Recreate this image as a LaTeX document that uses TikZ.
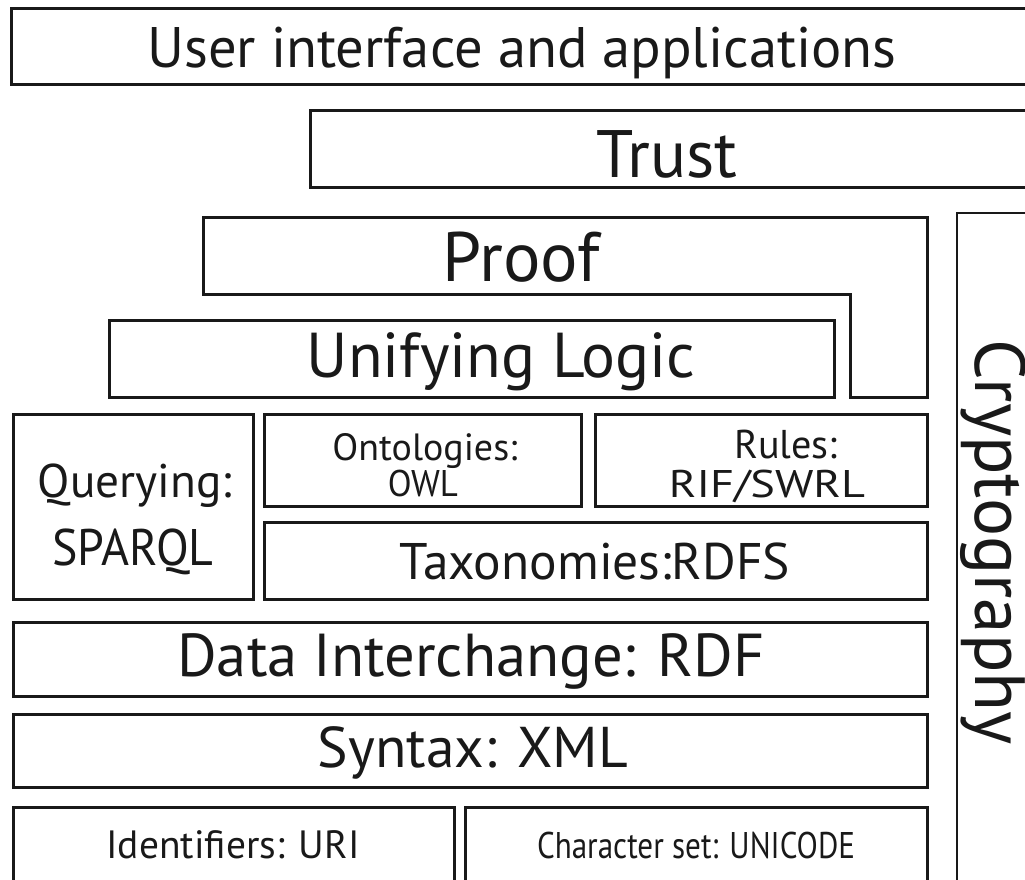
\documentclass[tikz,border=0pt]{standalone}
\usepackage{fontspec}
\setmainfont{PT Sans}
\usepackage{graphicx}
% a label of a given printed width
\newcommand{\lblw}[2]{\resizebox{#1}{!}{#2}}
% a label of a given printed width and capital height
\newcommand{\lblwh}[3]{\resizebox{#1}{#2}{\raisebox{0pt}[\fontcharht\font`\H]{#3}}}
\begin{document}
\begin{tikzpicture}[x=1pt,y=-1pt,
  layer/.style={draw=black!90, line width=3pt, line join=miter},
  thinlayer/.style={draw=black!90, line width=1.6pt},
  lbl/.style={anchor=base, inner sep=0pt, text=black!90}]
\useasboundingbox (0,0) rectangle (1025,879);
\clip (0,0) rectangle (1025,879);

% top layers running off the right edge
\draw[layer] (11,8) rectangle (1045,84);
\draw[layer] (310,110) rectangle (1045,187);

% proof, stepping down beside the logic layer
\draw[layer] (203,217) -- (927,217) -- (927,397) -- (850,397) -- (850,294) -- (203,294) -- cycle;
\draw[layer] (109,320) rectangle (834,397);

% cryptography column
\draw[thinlayer] (957,213) rectangle (1045,900);

% middle layers
\draw[layer] (13,414) rectangle (253,599);
\draw[layer] (264,414) rectangle (581,506);
\draw[layer] (595,414) rectangle (927,506);
\draw[layer] (264,522) rectangle (927,599);
\draw[layer] (13,622) rectangle (927,696);
\draw[layer] (13,714) rectangle (927,787);

% bottom layers running off the lower edge
\draw[layer] (13,807) rectangle (454,900);
\draw[layer] (465,807) rectangle (927,900);

% labels
\node[lbl] (ui)    at (522,67)  {\lblwh{749pt}{40pt}{User interface and applications}};
\node[lbl] (trust) at (667,177) {\lblw{140pt}{Trust}};
\node[lbl] (proof) at (521,281) {\lblw{157pt}{Proof}};
\node[lbl] (logic) at (501,377) {\lblw{388pt}{Unifying Logic}};
\node[lbl, rotate=-90] (crypto) at (975,542) {\lblw{405pt}{Cryptography}};
\node[lbl] (query1) at (135,497) {\lblw{194pt}{Querying:}};
\node[lbl] (query2) at (133,565) {\lblwh{161pt}{36pt}{SPARQL}};
\node[lbl] (onto1) at (425,460) {\lblw{185pt}{Ontologies:}};
\node[lbl] (onto2) at (423,496) {\lblwh{70pt}{26pt}{OWL}};
\node[lbl] (rules1) at (786,458) {\lblw{103pt}{Rules:}};
\node[lbl] (rules2) at (767,497) {\lblwh{196pt}{27pt}{RIF/SWRL}};
\node[lbl] (tax)   at (595,579) {\lblw{390pt}{Taxonomies:RDFS}};
\node[lbl] (rdf)   at (471,676) {\lblw{587pt}{Data Interchange: RDF}};
\node[lbl] (xml)   at (473,767) {\lblw{310pt}{Syntax: XML}};
\node[lbl] (uri)   at (233,858) {\lblw{253pt}{Identifiers: URI}};
\node[lbl] (uni)   at (696,858) {\lblwh{318pt}{26pt}{Character set: UNICODE}};
\end{tikzpicture}
\end{document}
